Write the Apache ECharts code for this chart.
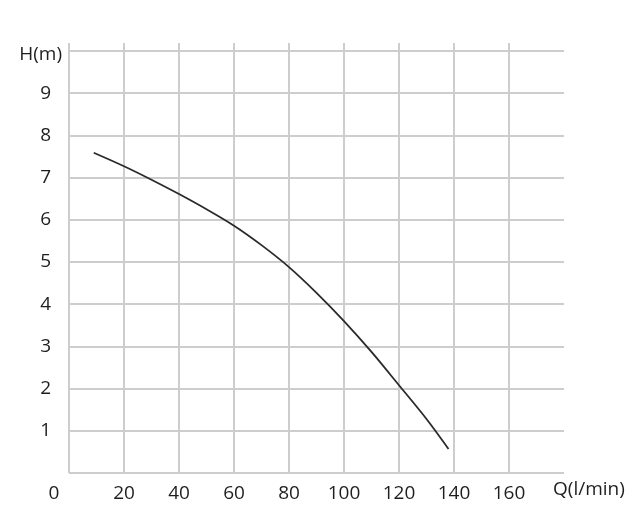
<!DOCTYPE html>
<html><head><meta charset="utf-8">
<script src="https://cdn.jsdelivr.net/npm/echarts@6/dist/echarts.min.js"></script>
<style>html,body{margin:0;padding:0;background:#fff}#c{width:641px;height:531px}</style>
</head><body><div id="c"></div>
<script>
const flowQ = [9, 20, 30, 40, 50, 60, 70, 80, 90, 100, 110, 120, 130, 138];
const headH = [7.59, 7.27, 6.95, 6.61, 6.25, 5.86, 5.4, 4.88, 4.27, 3.6, 2.87, 2.08, 1.28, 0.57];
const xTicks = [0, 20, 40, 60, 80, 100, 120, 140, 160];
const yTicks = [1, 2, 3, 4, 5, 6, 7, 8, 9];
const xName = 'Q(l/min)';
const yName = 'H(m)';

const font = '"Open Sans", "DejaVu Sans", sans-serif';
const gridColor = '#cdcdcd';
const txt = '#1e1e1e';
const fs = 19;
const chart = echarts.init(document.getElementById('c'));
chart.setOption({
  animation: false,
  backgroundColor: '#fff',
  grid: [
    {left: 69, right: 77, top: 51, bottom: 58},
    {left: 69, right: 132, top: 43, bottom: 58}
  ],
  xAxis: [
    {gridIndex: 0, type: 'value', min: 0, max: 180, interval: 20,
     axisLine: {show: false}, axisTick: {show: false}, axisLabel: {show: false}, splitLine: {show: false}},
    {gridIndex: 1, type: 'value', min: 0, max: 160, interval: 20,
     name: xName, nameLocation: 'end', nameGap: 44,
     nameTextStyle: {fontFamily: font, fontSize: fs, color: txt, verticalAlign: 'top', padding: [7, 0, 0, 0]},
     axisLine: {show: false}, axisTick: {show: false},
     axisLabel: {margin: 11, fontFamily: font, fontSize: fs, color: txt,
       formatter: v => xTicks.includes(v) ? (v === 0 ? '{o|0}' : String(v)) : '',
       rich: {o: {fontFamily: font, fontSize: fs, color: txt, padding: [0, 30, 10, 0]}}},
     splitLine: {show: true, lineStyle: {color: gridColor, width: 2}}}
  ],
  yAxis: [
    {gridIndex: 0, type: 'value', min: 0, max: 10, interval: 1,
     name: yName, nameLocation: 'end', nameGap: -4,
     nameTextStyle: {fontFamily: font, fontSize: fs, color: txt, align: 'right', verticalAlign: 'middle', padding: [0, 7, 0, 0]},
     axisLine: {show: false}, axisTick: {show: false},
     axisLabel: {margin: 18, fontFamily: font, fontSize: fs, color: txt,
       formatter: v => yTicks.includes(v) ? String(v) : ''},
     splitLine: {show: true, lineStyle: {color: gridColor, width: 2}}},
    {gridIndex: 1, type: 'value', min: 0, max: 10, show: false}
  ],
  series: [{
    type: 'line', xAxisIndex: 0, yAxisIndex: 0, smooth: 0.3, symbol: 'none',
    lineStyle: {color: '#2a2a2a', width: 1.8},
    data: flowQ.map((q, i) => [q, headH[i]])
  }]
});
</script></body></html>
